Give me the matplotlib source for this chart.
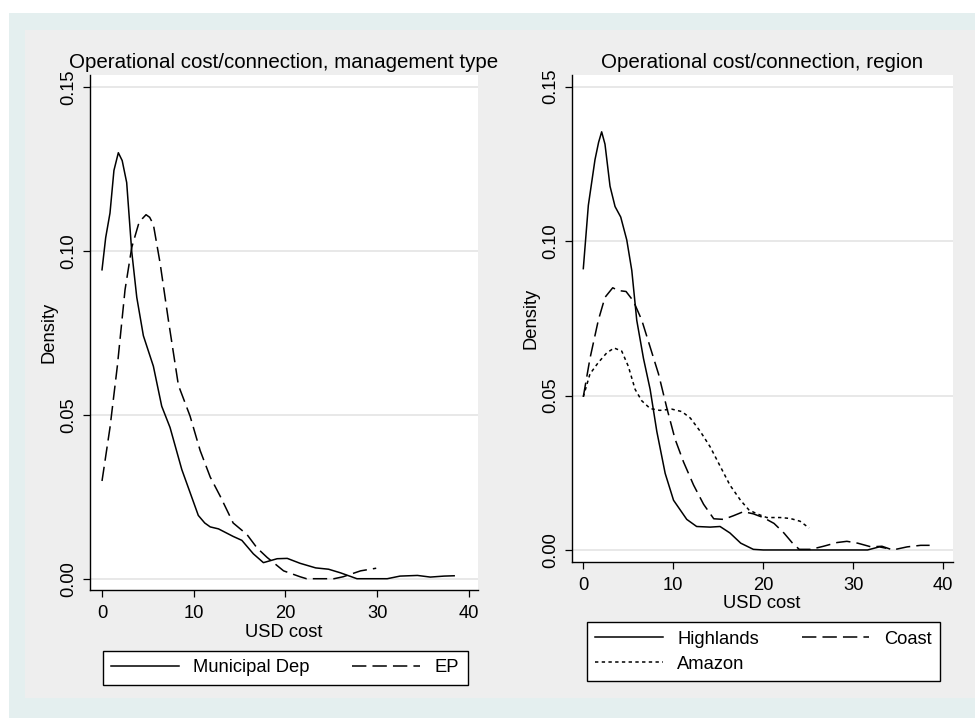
import matplotlib
matplotlib.use('Agg')
import matplotlib.pyplot as plt
from matplotlib.patches import Rectangle

plt.rcParams['font.family'] = ['Liberation Sans', 'DejaVu Sans']

# kernel density curves (x = USD cost, y = density)
mun_x = [0, 0.4, 0.87, 1.3, 1.78, 2.2, 2.69, 3.24, 3.79, 4.51, 5.6, 6.51, 7.42, 8.7, 9.6,
         10.5, 11.2, 11.8, 12.7, 14.3, 15.25, 16.5, 17.6, 19.1, 20.2, 21.6, 23.3, 24.7,
         26.0, 27.8, 31.1, 32.5, 34.4, 35.8, 37.3, 38.4]
mun_y = [0.0942, 0.1040, 0.1115, 0.1245, 0.1299, 0.1275, 0.1208, 0.0998, 0.0858, 0.0741,
         0.0648, 0.0526, 0.0461, 0.0333, 0.0263, 0.0193, 0.0170, 0.0158, 0.0152, 0.0129,
         0.0117, 0.0076, 0.0049, 0.0061, 0.0062, 0.0047, 0.0033, 0.0029, 0.0018, 0.0,
         0.0, 0.0008, 0.0010, 0.0005, 0.0008, 0.0009]
ep_x = [0, 0.87, 1.67, 2.51, 3.24, 3.97, 4.4, 4.8, 5.2, 5.6, 6.33, 7.24, 8.33, 9.6, 10.7,
        11.8, 12.9, 14.3, 15.8, 16.9, 18.0, 19.8, 21.6, 22.3, 25.3, 26.3, 28.2, 29.9]
ep_y = [0.0298, 0.0461, 0.0648, 0.0881, 0.1010, 0.1080, 0.1098, 0.1110, 0.1102, 0.1080,
        0.0963, 0.0788, 0.0590, 0.0496, 0.0391, 0.0310, 0.0251, 0.0170, 0.0135, 0.0094,
        0.0065, 0.0024, 0.0006, 0.0, 0.0, 0.0006, 0.0024, 0.0032]

hl_x = [0, 0.56, 1.3, 1.7, 2.04, 2.41, 2.97, 3.53, 4.16, 4.83, 5.39, 5.94, 6.69, 7.43,
        8.17, 9.1, 10.03, 11.5, 12.6, 14.1, 15.2, 16.3, 17.5, 18.9, 20.0, 31.6, 32.9, 33.6]
hl_y = [0.0911, 0.1116, 0.1264, 0.1320, 0.1354, 0.1314, 0.1178, 0.1112, 0.1078, 0.1004,
        0.0905, 0.0744, 0.0620, 0.0520, 0.0384, 0.0248, 0.0161, 0.0099, 0.0076, 0.0074,
        0.0076, 0.0055, 0.0022, 0.0002, 0.0, 0.0, 0.0010, 0.0006]
co_x = [0, 0.74, 1.67, 2.41, 3.27, 3.9, 4.75, 5.57, 6.5, 7.43, 8.36, 9.3, 10.2, 11.14,
        12.26, 13.37, 14.5, 15.6, 16.7, 17.8, 18.9, 20.0, 21.2, 22.3, 23.2, 24.0, 25.3,
        26.7, 28.2, 29.3, 30.5, 32.0, 33.2, 34.4, 36.0, 37.5, 38.5]
co_y = [0.0496, 0.0620, 0.0744, 0.0818, 0.0849, 0.0840, 0.0837, 0.0806, 0.0744, 0.0657,
        0.0570, 0.0458, 0.0359, 0.0285, 0.0210, 0.0148, 0.0101, 0.0099, 0.0111, 0.0124,
        0.0117, 0.0105, 0.0086, 0.0055, 0.0024, 0.0002, 0.0002, 0.0012, 0.0024, 0.0028,
        0.0022, 0.0010, 0.0012, 0.0, 0.0010, 0.0015, 0.0015]
am_x = [0, 0.74, 1.67, 2.6, 3.42, 4.27, 5.0, 5.76, 6.5, 7.43, 8.5, 9.84, 10.96, 11.9, 13.0,
        14.1, 15.2, 16.3, 17.5, 18.4, 19.3, 20.4, 21.9, 23.0, 24.1, 25.1]
am_y = [0.0496, 0.0570, 0.0607, 0.0638, 0.0654, 0.0644, 0.0595, 0.0520, 0.0483, 0.0458,
        0.0452, 0.0456, 0.0448, 0.0427, 0.0384, 0.0334, 0.0272, 0.0210, 0.0160, 0.0130,
        0.0117, 0.0105, 0.0105, 0.0102, 0.0093, 0.0071]

xticks = [0, 10, 20, 30, 40]
yticks = [0.00, 0.05, 0.10, 0.15]
ytick_labels = ['0.00', '0.05', '0.10', '0.15']

W, H = 975, 718
fig = plt.figure(figsize=(W / 100, H / 100), dpi=100, facecolor='white')

# stata style graph region
fig.patches.append(Rectangle((9 / W, 0), 1, 1 - 13 / H, transform=fig.transFigure,
                             facecolor='#e4efef', edgecolor='none', zorder=-3))
fig.patches.append(Rectangle((25 / W, 20 / H), 1, 1 - 50 / H, transform=fig.transFigure,
                             facecolor='#eeeeee', edgecolor='none', zorder=-2))

FS = 13.2
dash = (9.4, 4.0)
dot = (2.2, 2.2)


def px_axes(x0, x1, top, bottom):
    return [x0 / W, 1 - bottom / H, (x1 - x0) / W, (bottom - top) / H]


def style(ax, title, xlim, ylim):
    ax.set_facecolor('white')
    ax.set_xlim(*xlim)
    ax.set_ylim(*ylim)
    for s in ['top', 'right']:
        ax.spines[s].set_visible(False)
    for s in ['left', 'bottom']:
        ax.spines[s].set_linewidth(1.0)
    ax.set_xticks(xticks)
    ax.set_yticks(yticks)
    ax.set_yticklabels(ytick_labels, rotation=90, va='center')
    ax.tick_params(direction='out', length=5, width=0.9, labelsize=FS, pad=4)
    ax.tick_params(axis='x', pad=6)
    ax.grid(axis='y', color='#e2e2e2', linewidth=1.1)
    ax.set_axisbelow(True)
    ax.set_xlabel('USD cost', fontsize=FS, labelpad=1)
    ax.set_ylabel('Density', fontsize=FS, labelpad=2)
    ax.set_title(title, fontsize=14.8, pad=5)


# left panel: management type
ax1 = fig.add_axes(px_axes(90, 478, 75, 590))
ax1.plot(mun_x, mun_y, color='black', lw=1.1, label='Municipal Dep')
ax1.plot(ep_x, ep_y, color='black', lw=1.1, dashes=dash, label='EP')
style(ax1, 'Operational cost/connection, management type', (-1.31, 41.0), (-0.00344, 0.1536))
fig.legend(*ax1.get_legend_handles_labels(), loc='upper left',
           bbox_to_anchor=(102.7 / W, 1 - 651 / H, 365 / W, 0), mode='expand', ncol=2,
           fontsize=FS, frameon=True, fancybox=False, edgecolor='black', framealpha=1,
           borderaxespad=0, borderpad=0.45, handlelength=3.7, handletextpad=0.8)

# right panel: region
ax2 = fig.add_axes(px_axes(571.7, 952.5, 75, 561.7))
l_hl, = ax2.plot(hl_x, hl_y, color='black', lw=1.1, label='Highlands')
l_co, = ax2.plot(co_x, co_y, color='black', lw=1.1, dashes=dash, label='Coast')
l_am, = ax2.plot(am_x, am_y, color='black', lw=1.1, dashes=dot, label='Amazon')
style(ax2, 'Operational cost/connection, region', (-1.29, 41.04), (-0.0038, 0.1538))
# legend fills column-wise, so order gives rows: Highlands Coast / Amazon
fig.legend([l_hl, l_am, l_co], ['Highlands', 'Amazon', 'Coast'], loc='upper left',
           bbox_to_anchor=(586.7 / W, 1 - 622.3 / H, 353.3 / W, 0), mode='expand', ncol=2,
           fontsize=FS, frameon=True, fancybox=False, edgecolor='black', framealpha=1,
           borderaxespad=0, borderpad=0.45, handlelength=3.7, handletextpad=0.8,
           labelspacing=0.45)

for leg in fig.legends:
    leg.get_frame().set_linewidth(1.0)

fig.savefig('out.png', dpi=100, facecolor=fig.get_facecolor())
